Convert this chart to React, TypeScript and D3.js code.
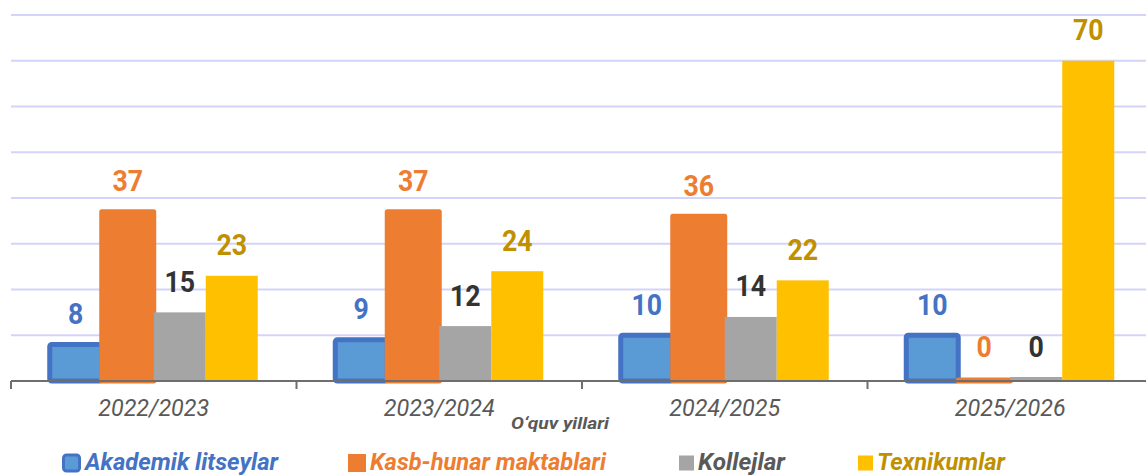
import React from 'react';
import * as d3 from 'd3';

// chart data
const years = ['2022/2023', '2023/2024', '2024/2025', '2025/2026'];
const seriesNames = ['Akademik litseylar', 'Kasb-hunar maktablari', 'Kollejlar', 'Texnikumlar'];
const akademik = [8, 9, 10, 10];
const kasbHunar = [37, 37, 36, 0];
const kollejlar = [15, 12, 14, 0];
const texnikumlar = [23, 24, 22, 70];
const yTicks = [0, 10, 20, 30, 40, 50, 60, 70, 80];
const axisTitle = 'O‘quv yillari';

const seriesValues = [akademik, kasbHunar, kollejlar, texnikumlar];
const barFill = ['#5B9BD5', '#ED7D31', '#A5A5A5', '#FFC000'];
const barStroke = ['#4472C4', '#ED7D31', 'none', 'none'];
const labelColor = ['#4472C4', '#ED7D31', '#333333', '#BF9000'];
const legendColor = ['#4472C4', '#ED7D31', '#595959', '#BF9000'];

const W = 1146;
const H = 475;
const FONT = 'Roboto, "Noto Sans", sans-serif';

const App: React.FC = () => {
  const x = d3.scaleBand<string>().domain(years).range([11, 1153]).paddingInner(0).paddingOuter(0);
  const inner = d3
    .scaleBand<string>()
    .domain(seriesNames)
    .range([0, x.bandwidth()])
    .paddingInner(0)
    .paddingOuter(0.745);
  const y = d3.scaleLinear().domain([0, 80]).range([381, 15]);

  const legendX = [62, 348, 679, 858];
  const legendTextW = [193, 236, 87, 128];
  const legendBox = [19, 18, 15, 15];

  return (
    <svg width={W} height={H} style={{ display: 'block', position: 'absolute', left: 0, top: 0 }} fontFamily={FONT}>
      <rect width={W} height={H} fill="#fff" />
      {/* gridlines */}
      {yTicks.slice(1).map(t => (
        <line key={t} x1={11} x2={W} y1={y(t)} y2={y(t)} stroke="#D4D4FA" strokeWidth={2} />
      ))}
      {/* bars */}
      {years.map((yr, i) => (
        <g key={yr} transform={`translate(${x(yr)},0)`}>
          {seriesNames.map((s, k) => {
            const v = seriesValues[k][i];
            const bx = inner(s)!;
            const bw = inner.bandwidth();
            const stroked = barStroke[k] !== 'none';
            // zero values still show a thin sliver, as in the original
            const top = v === 0 ? y(0) - (stroked ? 1 : 4) : y(v);
            const h = y(0) - top;
            return (
              <rect key={s} x={bx} y={top} width={bw} height={h} fill={barFill[k]}
                stroke={barStroke[k]} strokeWidth={stroked ? 5 : 0} strokeLinejoin="round"
                rx={k === 0 ? 2 : 0} />
            );
          })}
          {seriesNames.map((s, k) => {
            const v = seriesValues[k][i];
            const cx = inner(s)! + inner.bandwidth() / 2;
            const top = v === 0 ? y(0) - 3 : y(v);
            return (
              <text key={s} x={cx} y={top - 20.5} textAnchor="middle" fontSize={30} fontWeight="bold"
                fill={labelColor[k]} transform={`translate(${cx},0) scale(0.89,1) translate(${-cx},0)`}>
                {v}
              </text>
            );
          })}
        </g>
      ))}
      {/* axis */}
      <line x1={11} x2={W} y1={381} y2={381} stroke="#6E6E6E" strokeWidth={2} />
      {[...years.map(yr => x(yr)!), 1153].map((t, i) => (
        <line key={i} x1={t} x2={t} y1={381} y2={389} stroke="#6E6E6E" strokeWidth={2} />
      ))}
      {years.map(yr => (
        <text key={yr} x={x(yr)! + x.bandwidth() / 2} y={416} textAnchor="middle" fontSize={23}
          fontStyle="italic" fill="#595959" textLength={111} lengthAdjust="spacingAndGlyphs">
          {yr}
        </text>
      ))}
      <text x={560} y={429} textAnchor="middle" fontSize={17} fontStyle="italic" fontWeight="bold"
        fill="#595959" textLength={98} lengthAdjust="spacingAndGlyphs">
        {axisTitle}
      </text>
      {/* legend */}
      {seriesNames.map((s, k) => {
        const bs = legendBox[k];
        const lx = legendX[k];
        return (
          <g key={s}>
            {k === 0 ? (
              <rect x={lx + 1.5} y={463 - bs / 2 + 1.5} width={bs - 3} height={bs - 3} rx={3}
                fill={barFill[0]} stroke="#4472C4" strokeWidth={3} />
            ) : (
              <rect x={lx} y={463 - bs / 2} width={bs} height={bs} fill={barFill[k]} />
            )}
            <text x={lx + bs + 4} y={470} fontSize={24} fontStyle="italic" fontWeight="bold"
              fill={legendColor[k]} textLength={legendTextW[k]} lengthAdjust="spacingAndGlyphs">
              {s}
            </text>
          </g>
        );
      })}
    </svg>
  );
};

export default App;
